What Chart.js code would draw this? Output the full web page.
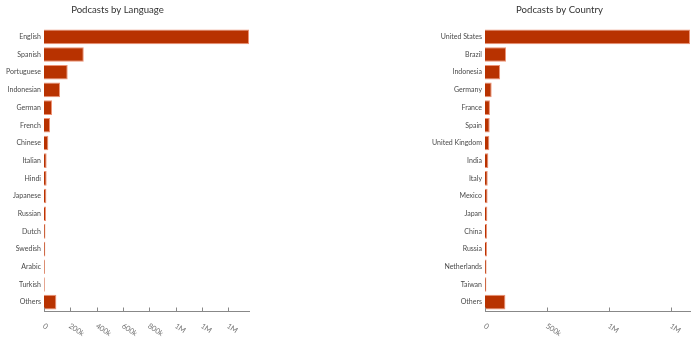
<!DOCTYPE html>
<html><head><meta charset="utf-8">
<script src="https://cdn.jsdelivr.net/npm/chart.js@4/dist/chart.umd.min.js"></script>
<style>
html,body{margin:0;padding:0;background:#fff;width:700px;height:338px;overflow:hidden;position:relative}
.box{position:absolute;top:0;height:338px}
#b1{left:-14px;width:264px}
#b2{left:429px;width:262px}
</style></head><body>
<div class="box" id="b1"><canvas id="c1"></canvas></div>
<div class="box" id="b2"><canvas id="c2"></canvas></div>
<script>
const languages = ['English','Spanish','Portuguese','Indonesian','German','French','Chinese','Italian','Hindi','Japanese','Russian','Dutch','Swedish','Arabic','Turkish','Others'];
const languageCounts = [1557000,302000,180000,122000,61000,46000,33000,20000,20000,18000,15000,11000,10000,7000,6000,94000];
const languageTicks = ['0','200k','400k','600k','800k','1M','1M','1M'];

const countries = ['United States','Brazil','Indonesia','Germany','France','Spain','United Kingdom','India','Italy','Mexico','Japan','China','Russia','Netherlands','Taiwan','Others'];
const countryCounts = [1656000,170000,122000,54000,40000,38000,35000,27000,22000,21000,19000,17000,16000,13000,11000,165000];
const countryTicks = ['0','500k','1M','1M'];

const FONT = 'Lato, "Open Sans", sans-serif';

function slantTicks(labels, step){
  return {
    id:'slantTicks',
    afterDraw(chart){
      const s = chart.scales.x, ctx = chart.ctx;
      ctx.save();
      ctx.strokeStyle = '#888'; ctx.lineWidth = 1;
      ctx.fillStyle = '#777';
      ctx.font = '7.5px ' + FONT;
      labels.forEach((lab,i)=>{
        const x = Math.round(s.getPixelForValue(i*step)) + 0.5;
        const y = Math.round(s.top);
        ctx.beginPath(); ctx.moveTo(x, y-3.5); ctx.lineTo(x, y); ctx.stroke();
        ctx.save();
        ctx.translate(x+1, y+11);
        ctx.rotate(33*Math.PI/180);
        ctx.textAlign='left'; ctx.textBaseline='top';
        ctx.fillText(lab, 0, 0);
        ctx.restore();
      });
      ctx.restore();
    }
  };
}

function makeChart(id, title, cats, vals, step, tickLabels, yWidth){
  return new Chart(document.getElementById(id), {
    type:'bar',
    data:{labels:cats, datasets:[{data:vals, backgroundColor:'#b83200', borderColor:'rgba(236,140,110,0.95)', borderWidth:1, barPercentage:0.92, categoryPercentage:0.9}]},
    options:{
      indexAxis:'y', responsive:true, maintainAspectRatio:false, animation:false,
      layout:{padding:{left:0,right:1,top:0,bottom:27}},
      plugins:{
        legend:{display:false}, tooltip:{enabled:false},
        title:{display:true, text:title, color:'#333', font:{family:FONT, size:9.6, weight:'normal'}, padding:{top:4.5,bottom:12}}
      },
      scales:{
        x:{type:'linear', min:0, max:Math.max(...vals),
           ticks:{display:false, stepSize:step},
           grid:{display:false, drawTicks:false},
           border:{display:true, color:'#888', width:1}},
        y:{grid:{display:false, drawTicks:false}, border:{display:false},
           ticks:{color:'#4a4a4a', padding:3, autoSkip:false, font:{family:FONT, size:7}},
           afterFit(s){ s.width = yWidth; }}
      }
    },
    plugins:[slantTicks(tickLabels, step)]
  });
}

makeChart('c1','Podcasts by Language', languages, languageCounts, 200000, languageTicks, 58);
makeChart('c2','Podcasts by Country', countries, countryCounts, 500000, countryTicks, 56);
</script>
</body></html>
